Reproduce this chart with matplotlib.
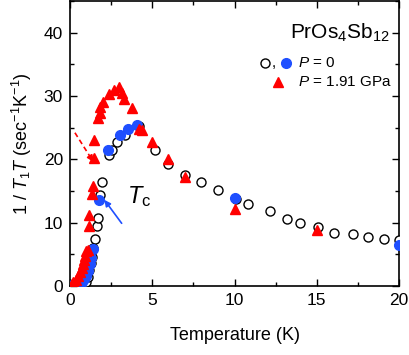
import matplotlib
matplotlib.use("Agg")
import matplotlib.pyplot as plt
from matplotlib.ticker import MultipleLocator

plt.rcParams['font.family'] = ['Liberation Sans', 'DejaVu Sans']
plt.rcParams['mathtext.fontset'] = 'custom'
plt.rcParams['mathtext.rm'] = 'Liberation Sans'
plt.rcParams['mathtext.it'] = 'Liberation Sans:italic'
plt.rcParams['mathtext.bf'] = 'Liberation Sans:bold'

# P = 0 (open circles)
t_open = [1.0, 1.12, 1.18, 1.27, 1.33, 1.42, 1.55, 1.65, 1.69, 1.83, 1.95, 2.38, 2.58,
          2.85, 3.35, 4.2, 5.18, 5.93, 6.97, 7.97, 9.0, 10.1, 10.8, 12.15, 13.2, 14.0,
          15.1, 16.06, 17.2, 18.1, 19.1, 20.0]
v_open = [0.7, 1.5, 2.5, 3.6, 4.6, 6.0, 7.5, 9.4, 10.7, 14.4, 16.4, 20.7, 21.5,
          22.8, 23.9, 25.2, 21.4, 19.3, 17.5, 16.4, 15.1, 13.7, 13.0, 11.9, 10.6, 10.0,
          9.3, 8.4, 8.2, 7.7, 7.5, 7.3]

# P = 0 (filled blue circles)
t_blue = [0.1, 0.3, 0.5, 0.7, 0.85, 1.0, 1.1, 1.2, 1.28, 1.38, 1.77, 2.3, 3.05, 3.52,
          4.1, 10.0, 20.0]
v_blue = [0.1, 0.2, 0.3, 0.6, 1.1, 1.6, 2.3, 3.4, 4.4, 5.8, 13.6, 21.4, 23.9, 24.8,
          25.4, 13.95, 6.5]

# P = 1.91 GPa (red triangles)
t_red = [0.1, 0.2, 0.35, 0.5, 0.6, 0.7, 0.8, 0.87, 0.93, 1.0, 1.12, 1.14, 1.18, 1.36,
         1.38, 1.48, 1.48, 1.73, 1.83, 1.83, 2.03, 2.38, 2.7, 2.95, 3.15, 3.3, 3.76,
         4.2, 4.37, 4.98, 5.96, 6.97, 10.0, 15.0]
v_red = [0.3, 0.6, 1.0, 1.6, 2.2, 2.8, 3.4, 4.1, 4.8, 5.5, 5.7, 9.5, 11.2, 14.6,
         15.8, 20.2, 23.0, 26.5, 27.3, 28.3, 29.1, 30.3, 30.9, 31.4, 30.4, 29.6, 28.1,
         24.8, 24.6, 22.8, 20.1, 17.2, 12.2, 8.8]

BLUE = '#1f4fff'
RED = '#ff0000'

fig = plt.figure(figsize=(4.10, 3.55), dpi=100)
ax = fig.add_axes([70/410, 1-286/355, 329/410, 285/355])

ax.plot(t_open, v_open, 'o', mfc='white', mec='black', mew=1.0, ms=6.5, ls='none', zorder=3)
ax.plot(t_blue, v_blue, 'o', mfc=BLUE, mec=BLUE, ms=7, ls='none', zorder=4)
ax.plot(t_red, v_red, '^', mfc=RED, mec=RED, ms=7, ls='none', zorder=5)

ax.set_xlim(0, 20)
ax.set_ylim(0, 45)
ax.xaxis.set_major_locator(MultipleLocator(5))
ax.xaxis.set_minor_locator(MultipleLocator(2.5))
ax.yaxis.set_major_locator(MultipleLocator(10))
ax.yaxis.set_minor_locator(MultipleLocator(5))
ax.tick_params(which='both', direction='in', top=True, right=True, width=1.0)
ax.tick_params(which='major', length=5, labelsize=12.5, pad=5)
ax.tick_params(which='minor', length=3)
for s in ax.spines.values():
    s.set_linewidth(1.2)

ax.set_xlabel('Temperature (K)', fontsize=13, labelpad=14)
ax.set_ylabel(r'1 / $T_1T$ (sec$^{-1}$K$^{-1}$)', fontsize=13, labelpad=7)

# legend built by hand
tr = ax.transAxes
ax.plot([0.593], [0.782], 'o', mfc='white', mec='black', mew=1.0, ms=6.5, transform=tr, clip_on=False)
ax.text(0.612, 0.770, ',', transform=tr, fontsize=11, va='baseline')
ax.plot([0.657], [0.782], 'o', mfc=BLUE, mec=BLUE, ms=7, transform=tr, clip_on=False)
ax.text(0.693, 0.782, r'$P$ = 0', transform=tr, fontsize=11, va='center')
ax.plot([0.632], [0.716], '^', mfc=RED, mec=RED, ms=7, transform=tr, clip_on=False)
ax.text(0.693, 0.716, r'$P$ = 1.91 GPa', transform=tr, fontsize=11, va='center')
ax.text(0.669, 0.888, r'PrOs$_4$Sb$_{12}$', transform=tr, fontsize=15, va='center')

ax.text(0.172, 0.291, r'$T_{\rm c}$', transform=tr, fontsize=17, va='baseline')

ax.annotate('', xy=(2.09, 13.6), xytext=(3.14, 9.9),
            arrowprops=dict(arrowstyle='-|>', color=BLUE, lw=1.2, mutation_scale=9,
                            shrinkA=0, shrinkB=0))
# dashed red arrow: dashed shaft plus solid head
ax.plot([0.3, 1.25], [24.2, 20.3], color=RED, lw=1.2, ls=(0, (3, 2)))
ax.annotate('', xy=(1.42, 19.6), xytext=(1.2, 20.5),
            arrowprops=dict(arrowstyle='-|>', color=RED, lw=1.2,
                            mutation_scale=9, shrinkA=0, shrinkB=0))

fig.savefig('out.png', dpi=100)
